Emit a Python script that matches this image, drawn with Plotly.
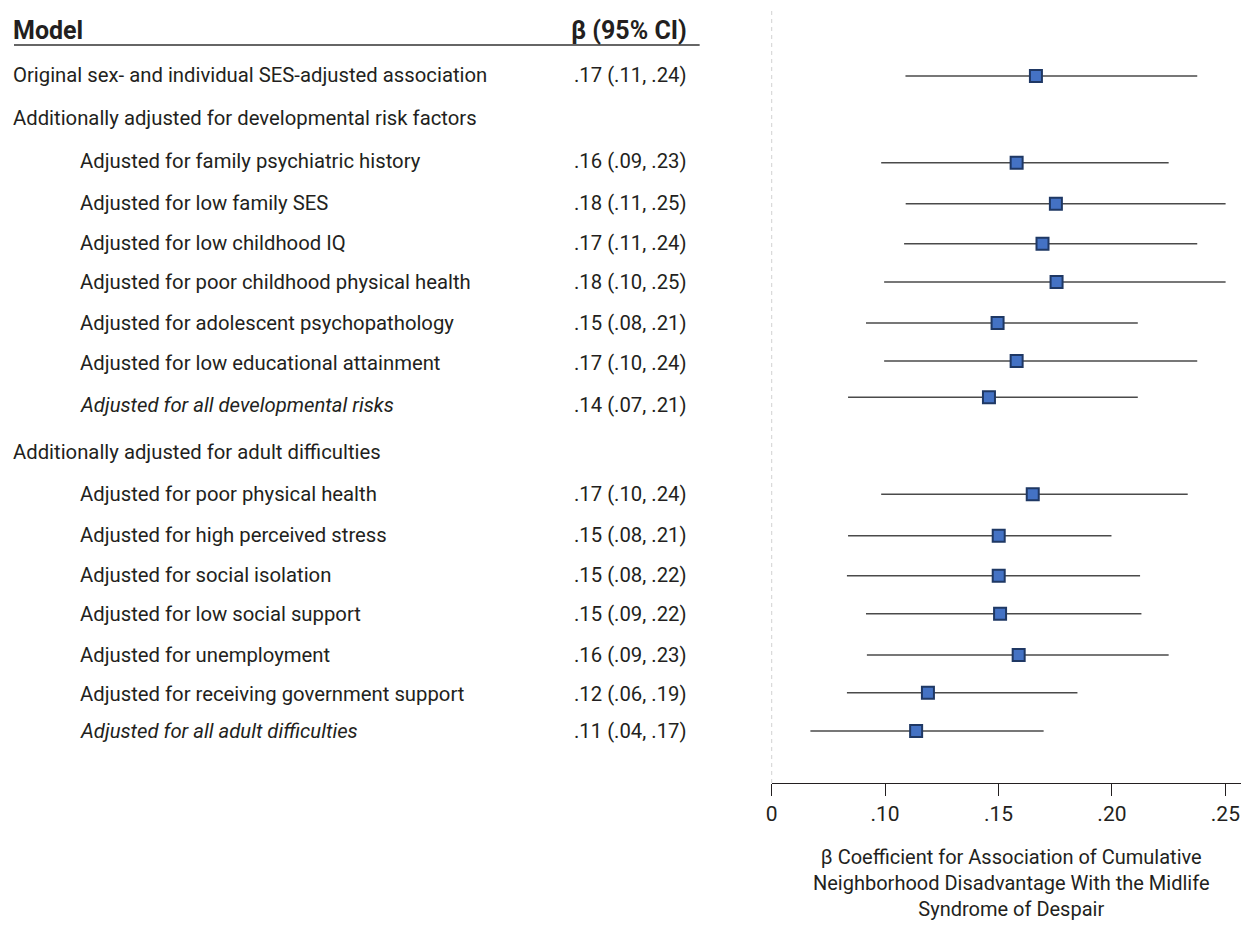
import plotly.graph_objects as go

# ---------------- data ----------------
row_labels = [
    "Original sex- and individual SES-adjusted association",
    "Additionally adjusted for developmental risk factors",
    "Adjusted for family psychiatric history",
    "Adjusted for low family SES",
    "Adjusted for low childhood IQ",
    "Adjusted for poor childhood physical health",
    "Adjusted for adolescent psychopathology",
    "Adjusted for low educational attainment",
    "Adjusted for all developmental risks",
    "Additionally adjusted for adult difficulties",
    "Adjusted for poor physical health",
    "Adjusted for high perceived stress",
    "Adjusted for social isolation",
    "Adjusted for low social support",
    "Adjusted for unemployment",
    "Adjusted for receiving government support",
    "Adjusted for all adult difficulties",
]
row_indent = [0, 0, 1, 1, 1, 1, 1, 1, 1, 0, 1, 1, 1, 1, 1, 1, 1]
row_italic = [0, 0, 0, 0, 0, 0, 0, 0, 1, 0, 0, 0, 0, 0, 0, 0, 1]
row_ci_text = [
    ".17 (.11, .24)", "", ".16 (.09, .23)", ".18 (.11, .25)", ".17 (.11, .24)",
    ".18 (.10, .25)", ".15 (.08, .21)", ".17 (.10, .24)", ".14 (.07, .21)", "",
    ".17 (.10, .24)", ".15 (.08, .21)", ".15 (.08, .22)", ".15 (.09, .22)",
    ".16 (.09, .23)", ".12 (.06, .19)", ".11 (.04, .17)",
]

# plotted estimates (rows with a model only)
beta = [0.1665, 0.158, 0.1753, 0.1694, 0.1756, 0.1496, 0.158, 0.1458,
        0.1651, 0.1501, 0.1501, 0.1507, 0.1589, 0.1189, 0.1137]
ci_low = [0.109, 0.0983, 0.1091, 0.1084, 0.0996, 0.0916, 0.0996, 0.0837,
          0.0983, 0.0837, 0.0832, 0.0916, 0.092, 0.0832, 0.0671]
ci_high = [0.2376, 0.225, 0.2501, 0.2376, 0.2501, 0.2114, 0.2376, 0.2114,
           0.2334, 0.1998, 0.2124, 0.213, 0.225, 0.1848, 0.1699]

tick_vals = [0.05, 0.10, 0.15, 0.20, 0.25]
tick_text = ["0", ".10", ".15", ".20", ".25"]

x_title = ("\u03b2 Coefficient for Association of Cumulative<br>"
           "Neighborhood Disadvantage With the Midlife<br>Syndrome of Despair")

# ---------------- layout helpers ----------------
PAGE_W, PAGE_H = 1249, 939
OFF = 8                    # default body margin of the html page
VIS_RIGHT = PAGE_W - OFF   # right-most visible page pixel
W = VIS_RIGHT - OFF
H = PAGE_H - 2 * OFF - 10  # stay clear of vertical overflow / scrollbar
AX_Y = 783                 # page pixel of x axis line
text_row_y = [75, 118, 161, 203, 243, 282, 323, 363, 405, 452, 494, 535, 575, 614, 655, 694, 731]
mark_row_y = [76, 162.7, 203.7, 243.7, 282, 323, 361, 397.3, 494.3, 535.7, 575.7, 613.7, 655, 692.7, 731]

def pxx(p):  # page x pixel -> paper x
    return (p - OFF) / W

def pyy(p):  # page y pixel -> paper y
    return (AX_Y - p) / (AX_Y - OFF)

FONT = "Roboto, Arial, sans-serif"
TXT = "#231f20"
FS = 20.3
LEFT0, LEFT1 = 5, 72       # left edges of unindented / indented labels

ax_left_px = 769.3
px_per_unit = 2280.0
x_range = [0.05, 0.05 + (VIS_RIGHT - ax_left_px) / px_per_unit]

fig = go.Figure()

fig.add_trace(go.Scatter(
    x=beta, y=mark_row_y, mode="markers",
    marker=dict(symbol="square", size=12, color="#4472c4",
                line=dict(color="#1f3864", width=2)),
    error_x=dict(type="data", symmetric=False,
                 array=[h - b for h, b in zip(ci_high, beta)],
                 arrayminus=[b - l for b, l in zip(beta, ci_low)],
                 width=0, thickness=1.6, color="#4a4a4a"),
    showlegend=False, hoverinfo="skip", cliponaxis=False,
))

annotations = []
annotations.append(dict(text="<b>Model</b>", x=pxx(LEFT0), xref="paper", y=pyy(30), yref="paper",
                        xanchor="left", yanchor="middle", showarrow=False,
                        font=dict(family=FONT, size=25, color=TXT)))
annotations.append(dict(text="<b>\u03b2 (95% CI)</b>", x=pxx(686), xref="paper", y=pyy(30), yref="paper",
                        xanchor="right", yanchor="middle", showarrow=False,
                        font=dict(family=FONT, size=25, color=TXT)))
for lab, ind, it, ci, yy in zip(row_labels, row_indent, row_italic, row_ci_text, text_row_y):
    t = f"<i>{lab}</i>" if it else lab
    annotations.append(dict(text=t, x=pxx(LEFT1 if ind else LEFT0), xref="paper", y=pyy(yy), yref="paper",
                            xanchor="left", yanchor="middle", showarrow=False,
                            font=dict(family=FONT, size=FS, color=TXT)))
    if ci:
        annotations.append(dict(text=ci, x=pxx(686), xref="paper", y=pyy(yy), yref="paper",
                                xanchor="right", yanchor="middle", showarrow=False,
                                font=dict(family=FONT, size=FS, color=TXT)))
annotations.append(dict(text=x_title, x=pxx(1010), xref="paper", y=pyy(883), yref="paper",
                        xanchor="center", yanchor="middle", showarrow=False,
                        font=dict(family=FONT, size=20, color=TXT)))

shapes = [
    dict(type="line", xref="paper", yref="paper", x0=pxx(8), x1=pxx(697), y0=pyy(45), y1=pyy(45),
         line=dict(color="#666666", width=2)),
    dict(type="line", xref="x", yref="paper", x0=0.05, x1=0.05, y0=0, y1=1,
         line=dict(color="#9a9a9a", width=1, dash="4px,4px")),
]

fig.update_layout(
    width=W, height=H,
    margin=dict(l=0, r=0, t=0, b=OFF + H - AX_Y),
    paper_bgcolor="white", plot_bgcolor="white",
    font=dict(family=FONT, size=FS, color=TXT),
    annotations=annotations, shapes=shapes,
    xaxis=dict(domain=[pxx(ax_left_px), 1.0], range=x_range, showgrid=False, zeroline=False,
               showline=True, linecolor="#231f20", linewidth=1,
               ticks="outside", ticklen=12, tickcolor="#231f20", tickwidth=1,
               tickvals=tick_vals, ticktext=tick_text,
               tickfont=dict(family=FONT, size=21, color=TXT)),
    yaxis=dict(range=[AX_Y, OFF], visible=False, showgrid=False, zeroline=False),
)

fig.write_html("out.html")
